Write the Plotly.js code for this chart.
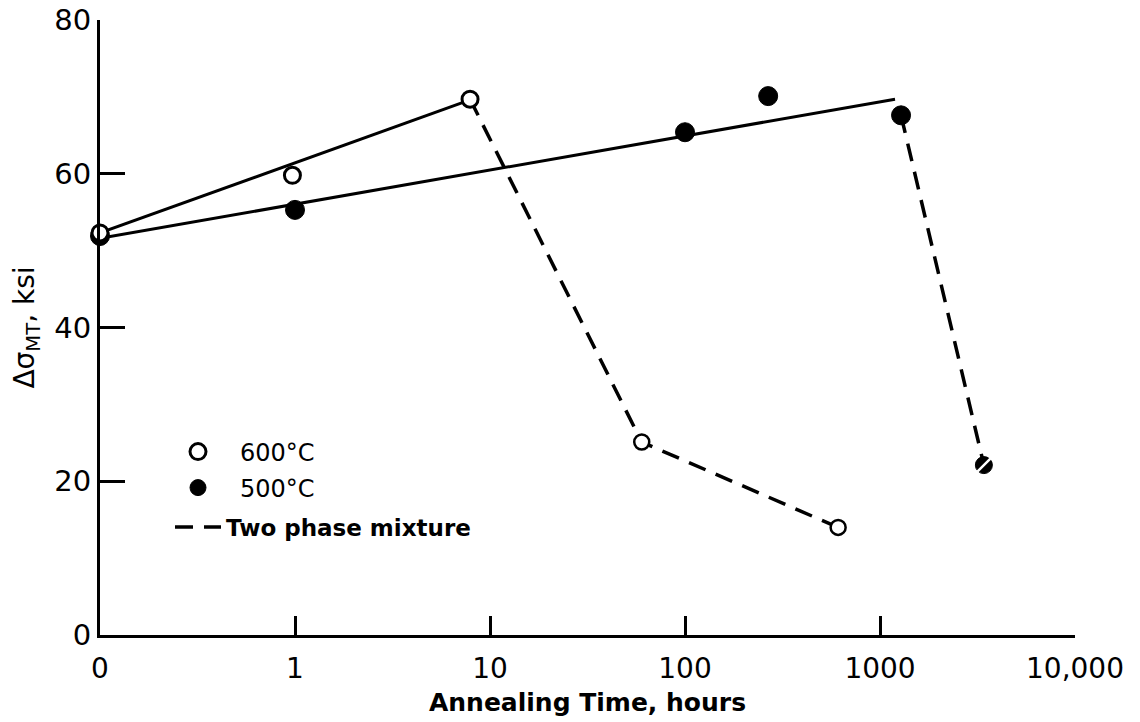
<!DOCTYPE html>
<html>
<head>
<meta charset="utf-8">
<script src="https://cdn.plot.ly/plotly-3.0.1.min.js"></script>
<style>
  html, body { margin: 0; padding: 0; background: #fff; }
  #chart { width: 1140px; height: 722px; }
</style>
</head>
<body>
<div id="chart"></div>
<script>
// Annealing time axis: the "0" position sits one decade below 1 hour on the log scale
const timeTicks = [0.1, 1, 10, 100, 1000, 10000];
const timeLabels = ["0", "1", "10", "100", "1000", "10,000"];
const stressTicks = [0, 20, 40, 60, 80];

// 600°C, single phase (open circles)
const t600 = [0.1, 0.97, 7.9];
const s600 = [52.3, 59.8, 69.7];
// 600°C, two phase mixture
const t600two = [60, 610];
const s600two = [25.1, 14.0];

// 500°C, single phase (filled circles)
const t500 = [0.1, 1.0, 100, 267, 1282];
const s500 = [51.9, 55.3, 65.4, 70.1, 67.6];
// 500°C, two phase mixture (hatched)
const t500two = [3410];
const s500two = [22.1];

// Straight trend lines through the single-phase data
const fit600T = [0.1, 7.9];
const fit600S = [52.3, 69.6];
const fit500T = [0.1, 1194];
const fit500S = [51.6, 69.7];

const FONT = "DejaVu Sans, sans-serif";
const INK = "#000";

// Dashed drop-off paths: last single-phase point followed by the two-phase points
const drop600T = [t600[t600.length - 1]].concat(t600two);
const drop600S = [s600[s600.length - 1]].concat(s600two);
const drop500T = [t500[t500.length - 1]].concat(t500two);
const drop500S = [s500[s500.length - 1]].concat(s500two);

const dashStyle = { color: INK, width: 3.5, dash: "18px,11px" };

const traces = [
  { x: fit600T, y: fit600S, mode: "lines", line: { color: INK, width: 3 },
    showlegend: false, hoverinfo: "skip", cliponaxis: false },
  { x: fit500T, y: fit500S, mode: "lines", line: { color: INK, width: 3 },
    showlegend: false, hoverinfo: "skip", cliponaxis: false },
  { x: drop600T, y: drop600S, mode: "lines", line: dashStyle,
    name: "Two phase mixture", legend: "legend3", showlegend: true, hoverinfo: "skip" },
  { x: drop500T, y: drop500S, mode: "lines", line: dashStyle,
    showlegend: false, hoverinfo: "skip" },
  // 500°C points
  { x: t500, y: s500, mode: "markers", name: "500°C", legend: "legend2",
    marker: { symbol: "circle", size: 19, color: INK, line: { color: INK, width: 1 } },
    cliponaxis: false },
  // 600°C points
  { x: t600, y: s600, mode: "markers", name: "600°C", legend: "legend",
    marker: { symbol: "circle", size: 16, color: "#fff", line: { color: INK, width: 3 } },
    cliponaxis: false },
  { x: t600two, y: s600two, mode: "markers", showlegend: false,
    marker: { symbol: "circle", size: 15, color: "#fff", line: { color: INK, width: 2.5 } } },
  // 500°C two phase point: dark disc with a light diagonal stripe
  { x: t500two, y: s500two, mode: "markers", showlegend: false,
    marker: { symbol: "circle", size: 17, color: INK, line: { color: INK, width: 1 } } },
  { x: t500two, y: s500two, mode: "markers", showlegend: false,
    marker: { symbol: "line-ne", size: 13, color: "#fff", line: { color: "#fff", width: 2.5 } } }
];

const legendBase = {
  bgcolor: "rgba(0,0,0,0)", borderwidth: 0, xanchor: "left", yanchor: "middle",
  font: { family: FONT, size: 24, color: INK }
};

const layout = {
  width: 1140, height: 722,
  margin: { l: 100, r: 65, t: 20, b: 87 },
  paper_bgcolor: "#fff", plot_bgcolor: "#fff",
  font: { family: FONT, color: INK },
  xaxis: {
    type: "log", range: [-1, 4],
    tickvals: timeTicks, ticktext: timeLabels,
    ticks: "inside", ticklen: 19, tickwidth: 3, tickcolor: INK,
    showline: true, linewidth: 3, linecolor: INK,
    showgrid: false, zeroline: false, ticklabelstandoff: 6,
    tickfont: { family: FONT, size: 28, color: INK },
    title: { text: "Annealing Time, hours", standoff: 10,
             font: { family: FONT, size: 25, weight: "bold", color: INK } }
  },
  yaxis: {
    range: [0, 80], tickvals: stressTicks,
    ticks: "inside", ticklen: 25, tickwidth: 3, tickcolor: INK,
    showline: true, linewidth: 3, linecolor: INK,
    showgrid: false, zeroline: false,
    tickfont: { family: FONT, size: 29, color: INK },
    title: { text: "Δσ<sub>MT</sub>, ksi", standoff: 12,
             font: { family: FONT, size: 28, color: INK } }
  },
  legend: Object.assign({}, legendBase, { x: (156 - 100) / 975, y: (635 - 452) / 615, itemwidth: 74 }),
  legend2: Object.assign({}, legendBase, { x: (156 - 100) / 975, y: (635 - 488) / 615, itemwidth: 74 }),
  legend3: Object.assign({}, legendBase, { x: (170 - 100) / 975, y: (635 - 527) / 615, itemwidth: 46,
    font: { family: FONT, size: 23, weight: "bold", color: INK } }),
  showlegend: true
};

Plotly.newPlot("chart", traces, layout, { displayModeBar: false, staticPlot: true });
</script>
</body>
</html>
